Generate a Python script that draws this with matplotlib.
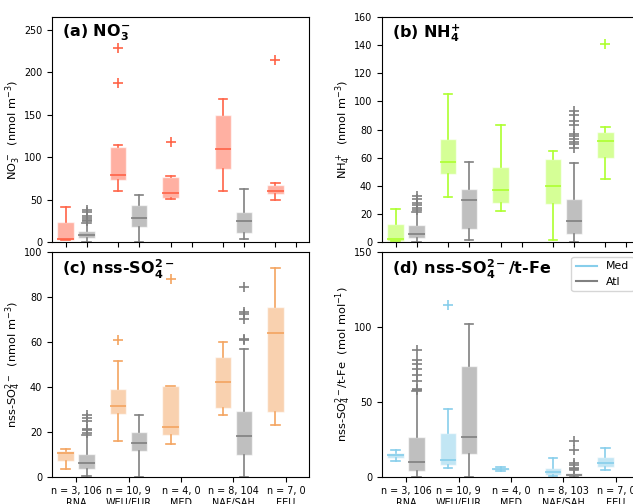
import numpy as np
import matplotlib
matplotlib.use('Agg')
import matplotlib.pyplot as plt
from matplotlib.colors import to_rgba
from matplotlib.lines import Line2D

plt.rcParams['font.size'] = 6.9

regions = ['RNA', 'WEU/EUR', 'MED', 'NAF/SAH', 'EEU']
n_med = [3, 10, 4, 8, 7]
n_atl = [106, 9, 0, 104, 0]
n_atl_ratio = [106, 9, 0, 103, 0]

# box stats per region: [whislo, q1, med, q3, whishi], None = no samples
no3_med = [[2, 2.5, 3.5, 23, 41], [60, 73, 79.5, 112, 114.5], [51, 52, 58, 77, 77.5],
           [60, 86, 110, 150, 168], [50, 57, 60, 67, 69.5]]
no3_med_fliers = [[], [187, 229], [118], [], [214]]
no3_atl = [[0.5, 4.7, 8.7, 13, 22], [0, 18, 28.8, 43, 55], None, [3.5, 11, 24.4, 35.4, 63], None]
no3_atl_fliers = [[25, 26.5, 28.5, 31, 35, 38], [], [], [], []]

nh4_med = [[0.5, 1, 2.2, 13, 23.5], [32, 48.3, 57, 73.4, 105.5], [22, 28, 36.9, 53, 83],
           [1.4, 27, 40, 58.7, 64.7], [45, 60, 71.8, 78, 81.8]]
nh4_med_fliers = [[], [], [], [], [140.7]]
nh4_atl = [[0, 3.1, 5.7, 12.4, 21], [1.5, 9.5, 29.7, 37.4, 57], None, [0, 6, 14.8, 30.4, 56.3], None]
nh4_atl_fliers = [[22.5, 24, 26, 28, 30.5, 33], [], [],
                  [67, 70, 71.3, 73, 75.6, 77, 83, 86, 90, 93], []]

so4_med = [[3.6, 7.1, 10.7, 11.6, 12.4], [16, 28, 31.4, 38.8, 51.6], [14.5, 18.7, 22.2, 40.3, 40.3],
           [27.4, 30.5, 42.2, 53, 59.9], [23.1, 28.8, 63.9, 75.3, 92.8]]
so4_med_fliers = [[], [60.6], [88], [], []]
so4_atl = [[0.3, 3.3, 6.1, 10.1, 18.5], [0, 11.6, 15.1, 19.9, 27.3], None, [0, 9.5, 18.1, 29.2, 56.9], None]
so4_atl_fliers = [[19.3, 20.6, 21.2, 24.9, 26, 27.5], [], [], [60.8, 61.3, 70, 72.3, 73.2, 84.3], []]

ratio_med = [[10.2, 12.2, 14.2, 16, 17.6], [5.8, 8, 10.9, 29.1, 45.1], [3.6, 4.5, 5.3, 6, 6.7],
             [0.3, 0.9, 2.9, 5.8, 12.7], [4.7, 6.7, 9.1, 13.1, 19.3]]
ratio_med_fliers = [[], [114.7], [], [], []]
ratio_atl = [[0, 3.8, 10, 26.3, 57], [0, 14.9, 26.7, 73.6, 101.8], None, [0, 0.3, 1.3, 2.5, 4.5], None]
ratio_atl_fliers = [[58, 58.5, 63.5, 68, 71.5, 75, 77.5, 84.7], [], [], [5.2, 6, 8, 9, 17.6, 23.6], []]

atl_color = 'gray'


def draw_boxes(ax, boxes, fliers, color, offset):
    stats = []
    pos = []
    for i, (b, f) in enumerate(zip(boxes, fliers)):
        if b is None:
            continue
        stats.append(dict(whislo=b[0], q1=b[1], med=b[2], q3=b[3], whishi=b[4], fliers=f))
        pos.append(i + offset)
    ax.bxp(stats, positions=pos, widths=0.32, patch_artist=True, manage_ticks=False,
           boxprops=dict(facecolor=to_rgba(color, 0.5), edgecolor=(1, 1, 1, 0.6), linewidth=1),
           medianprops=dict(color=color, linewidth=1.2),
           whiskerprops=dict(color=color, linewidth=1.2),
           capprops=dict(color=color, linewidth=1.2),
           flierprops=dict(marker='+', markeredgecolor=color, markersize=6.5, markeredgewidth=1.2))


W, H = 633, 504
fig = plt.figure(figsize=(W / 100, H / 100), dpi=100)
w, h = 257 / W, 225 / H
ax_a = fig.add_axes([52 / W, 1 - 242 / H, w, h])
ax_b = fig.add_axes([382 / W, 1 - 242 / H, w, h])
ax_c = fig.add_axes([52 / W, 1 - 476.7 / H, w, h])
ax_d = fig.add_axes([382 / W, 1 - 476.7 / H, w, h])

panels = [
    (ax_a, no3_med, no3_med_fliers, no3_atl, no3_atl_fliers, 'tomato', (0, 265), np.arange(0, 251, 50),
     r'(a) NO$_{\mathbf{3}}^{\mathbf{-}}$', r'NO$_3^-$  (nmol m$^{-3}$)'),
    (ax_b, nh4_med, nh4_med_fliers, nh4_atl, nh4_atl_fliers, 'greenyellow', (0, 160), np.arange(0, 161, 20),
     r'(b) NH$_{\mathbf{4}}^{\mathbf{+}}$', r'NH$_4^+$  (nmol m$^{-3}$)'),
    (ax_c, so4_med, so4_med_fliers, so4_atl, so4_atl_fliers, 'sandybrown', (0, 100), np.arange(0, 101, 20),
     r'(c) nss-SO$_{\mathbf{4}}^{\mathbf{2-}}$', r'nss-SO$_4^{2-}$  (nmol m$^{-3}$)'),
    (ax_d, ratio_med, ratio_med_fliers, ratio_atl, ratio_atl_fliers, 'skyblue', (0, 150), np.arange(0, 151, 50),
     r'(d) nss-SO$_{\mathbf{4}}^{\mathbf{2-}}$/t-Fe', r'nss-SO$_4^{2-}$/t-Fe  (mol mol$^{-1}$)'),
]

x = np.arange(len(regions))
for ax, mb, mf, ab, af, col, ylim, yt, title, ylab in panels:
    draw_boxes(ax, mb, mf, col, -0.2)
    draw_boxes(ax, ab, af, atl_color, 0.2)
    ax.set_xlim(-0.46, 4.44)
    ax.set_ylim(*ylim)
    ax.set_yticks(yt)
    ax.set_ylabel(ylab, fontsize=8.2, labelpad=0.5)
    ax.text(0.04, 0.975, title, transform=ax.transAxes, va='top', ha='left',
            fontsize=11.5, fontweight='bold')

for ax in (ax_a, ax_b):
    ax.set_xticks(np.concatenate([x - 0.2, x + 0.2]))
    ax.set_xticklabels([])

ax_c.set_xticks(x)
ax_c.set_xticklabels([f'n = {a}, {b}\n{r}' for a, b, r in zip(n_med, n_atl, regions)])
ax_d.set_xticks(x)
ax_d.set_xticklabels([f'n = {a}, {b}\n{r}' for a, b, r in zip(n_med, n_atl_ratio, regions)])

ax_d.legend(handles=[Line2D([], [], color='skyblue', lw=1.5, label='Med'),
                     Line2D([], [], color=atl_color, lw=1.5, label='Atl')],
            loc='upper right', fontsize=7.8)

fig.savefig('out.png', dpi=100)
